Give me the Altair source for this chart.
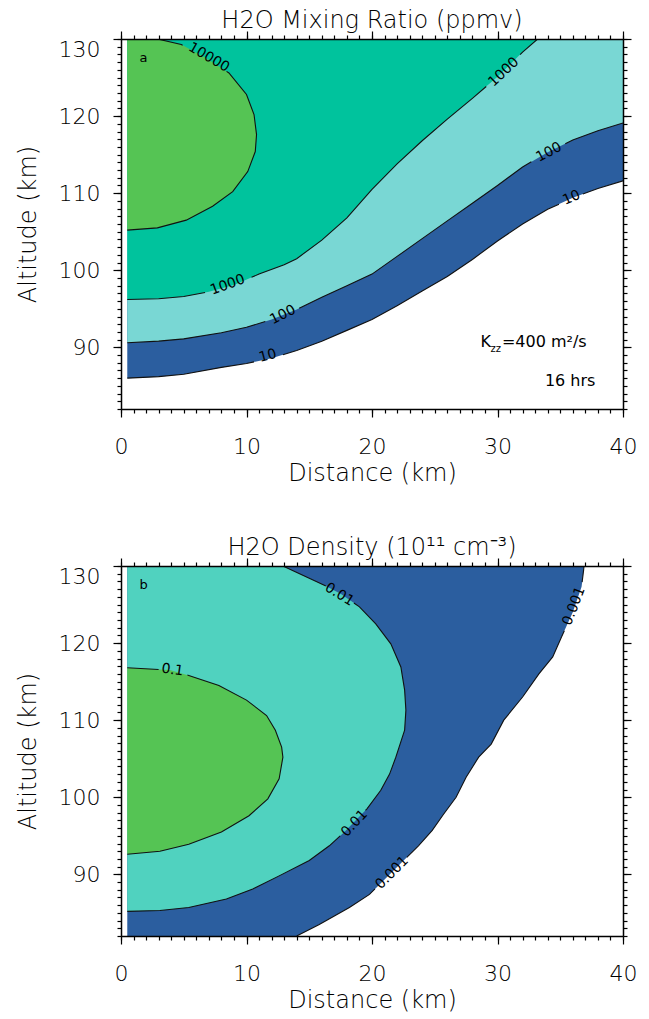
import altair as alt
import pandas as pd

FONT = "DejaVu Sans"
BIG_WEIGHT = 300      # axis text and titles (thin strokes like the original)
SMALL_WEIGHT = 400    # contour labels and notes
INK = "#000000"
LINE_INK = "#111111"

BLUE = "#2B5E9F"
CYAN_A = "#79D7D4"
TEAL = "#00C39D"
GREEN = "#55C454"
CYAN_B = "#50D2BF"

GRID_START = 0.5   # first model distance (km); the fill starts here
TOP_ALT = 130      # top of the model domain (km)

# ---------------- panel a : H2O mixing ratio (ppmv) ----------------
A_DIST = [0.5, 3, 5, 8, 10, 12, 14, 16, 18, 20, 22, 24, 26, 28, 30, 32, 34, 36, 38, 40]
A_C10 = [86.0, 86.2, 86.5, 87.4, 87.9, 88.6, 89.6, 90.8, 92.2, 93.6, 95.4, 97.3, 99.2,
         101.4, 103.8, 106.0, 107.9, 109.4, 110.6, 111.6]
A_C100 = [90.6, 90.8, 91.1, 91.9, 92.6, 93.6, 94.9, 96.5, 98.0, 99.5, 101.8, 104.1, 106.4,
          108.7, 111.0, 113.4, 115.3, 116.9, 118.1, 119.1]
A_C1000_DIST = [0.5, 3, 5, 7, 9, 11, 13, 14, 16, 18, 20, 22, 24, 26, 28, 30, 32, 33.2]
A_C1000 = [96.2, 96.3, 96.6, 97.2, 98.1, 99.5, 100.7, 101.5, 103.9, 106.8, 110.5, 113.8,
           116.8, 119.6, 122.3, 125.1, 128.3, 130.0]
A_C10000_ALT = [105.2, 105.5, 106.5, 108.3, 110.2, 112.8, 115.4, 117.6, 120.2, 122.8,
                125.6, 127.5, 129.3, 130.0]
A_C10000_DIST = [0.5, 2.9, 5.2, 7.3, 8.9, 10.1, 10.7, 10.8, 10.6, 10.0, 8.6, 6.8, 4.8, 2.9]

A_LABEL_TEXT = ["10000", "1000", "1000", "100", "100", "10", "10"]
A_LABEL_DIST = [7.0, 8.5, 30.5, 12.9, 34.1, 11.7, 35.9]
A_LABEL_ALT = [127.6, 98.1, 125.7, 94.2, 115.3, 88.9, 109.4]
A_LABEL_ANGLE = [30, 340, 317, 333, 332, 345, 337]
A_GAP_10 = [(10.6, 12.9), (34.9, 36.8)]
A_GAP_100 = [(11.5, 14.2), (32.7, 35.4)]
A_GAP_1000 = [(6.7, 10.4), (29.1, 31.8)]
A_GAP_10000 = [(125.8, 129.2)]          # along altitude

A_NOTE_TEXT = ["K", "zz", "=400 m²/s", "16 hrs"]
A_NOTE_DIST = [28.65, 29.45, 30.35, 37.8]
A_NOTE_ALT = [90.0, 90.0, 90.0, 85.0]

# ---------------- panel b : H2O density (1e11 cm-3) ----------------
B_C0001_ALT = [82.0, 83.5, 85.7, 87.4, 90.3, 93.7, 95.7, 97.8, 100.0, 102.6, 105.2, 106.9,
               110.0, 113.0, 116.0, 118.2, 120.8, 124.0, 127.3, 130.0]
B_C0001_DIST = [14.0, 15.8, 18.2, 19.8, 21.6, 23.7, 24.8, 25.7, 26.7, 27.5, 28.5, 29.5,
                30.5, 32.0, 33.3, 34.4, 35.1, 36.0, 36.7, 36.9]
B_C001_ALT = [85.2, 85.3, 85.7, 86.8, 88.1, 89.8, 91.8, 93.7, 95.5, 98.5, 100.9, 103.0,
              105.2, 108.7, 111.3, 113.9, 116.9, 119.9, 122.5, 124.7, 126.4, 127.5, 130.0]
B_C001_DIST = [0.5, 3.1, 5.4, 8.4, 10.5, 12.6, 15.0, 16.6, 17.8, 19.6, 20.7, 21.4, 21.9,
               22.6, 22.7, 22.6, 22.3, 21.5, 20.3, 19.0, 17.5, 16.2, 12.9]
B_C01_ALT = [92.6, 93.0, 93.9, 95.5, 97.6, 99.8, 102.4, 105.2, 106.5, 108.7, 110.6, 112.6,
             114.5, 115.8, 116.5, 116.8]
B_C01_DIST = [0.5, 3.1, 5.4, 8.0, 10.2, 11.7, 12.6, 12.9, 12.8, 12.3, 11.6, 10.0, 7.8,
              5.4, 3.9, 0.5]

B_LABEL_TEXT = ["0.1", "0.01", "0.01", "0.001", "0.001"]
B_LABEL_DIST = [4.1, 17.4, 18.6, 21.6, 36.1]
B_LABEL_ALT = [116.5, 126.3, 96.6, 90.2, 124.8]
B_LABEL_ANGLE = [8, 32, 313, 315, 291]
B_GAP_0001 = [(88.1, 92.2), (121.6, 127.9)]   # along altitude
B_GAP_001 = [(95.0, 98.3), (125.2, 127.4)]
B_GAP_01 = [(115.85, 116.58)]

PANEL_TAG_DIST = 1.8
PANEL_TAG_ALT = 127.5

X_MAJOR = [0, 10, 20, 30, 40]
X_MINOR = list(range(0, 41))
Y_MAJOR = [90, 100, 110, 120, 130]
Y_MINOR = list(range(82, 131))


# ---------------- helpers ----------------
def split_line(par, oth, gaps):
    """Cut a polyline (parameter, other coordinate) where the labels sit."""
    seq = []
    for i in range(len(par)):
        if i > 0:
            p0, o0, p1, o1 = par[i - 1], oth[i - 1], par[i], oth[i]
            bs = [b for g in gaps for b in g if min(p0, p1) < b < max(p0, p1)]
            bs.sort(reverse=p1 < p0)
            for b in bs:
                seq.append((b, o0 + (o1 - o0) * (b - p0) / (p1 - p0)))
        seq.append((par[i], oth[i]))

    def inside(p):
        return any(lo < p < hi for lo, hi in gaps)

    out, seg, prev = [], 0, None
    for k, (p, o) in enumerate(seq):
        if inside(p):
            continue
        if prev is not None and inside((prev + p) / 2):
            seg += 1
        out.append((k, seg, p, o))
        prev = p
    return out


def line_frame(specs):
    rows = []
    for name, par, oth, gaps, par_is_dist in specs:
        for k, seg, p, o in split_line(par, oth, gaps):
            rows.append({
                "key": f"{name}-{seg}", "k": k,
                "dist": p if par_is_dist else o,
                "alt": o if par_is_dist else p,
            })
    return pd.DataFrame(rows)


XS = alt.Scale(domain=[0, 40], nice=False, zero=False)
YS = alt.Scale(domain=[82, 130], nice=False, zero=False)

AX_BASE = dict(grid=False, zindex=1)
AXES = [
    (alt.Axis(orient="bottom", values=X_MAJOR, tickSize=8, labelPadding=19, labelFontSize=22,
              labelFlush=False, title="Distance (km)", titleFontSize=24, titlePadding=4, **AX_BASE),
     alt.Axis(orient="left", values=Y_MAJOR, tickSize=8, labelPadding=13, labelFontSize=22,
              labelFlush=True, title="Altitude (km)", titleFontSize=24, titlePadding=18, **AX_BASE)),
    (alt.Axis(orient="bottom", values=X_MINOR, tickSize=4, labels=False, domain=False, title=None, **AX_BASE),
     alt.Axis(orient="left", values=Y_MINOR, tickSize=4, labels=False, domain=False, title=None, **AX_BASE)),
    (alt.Axis(orient="top", values=X_MAJOR, tickSize=8, labels=False, title=None, **AX_BASE),
     alt.Axis(orient="right", values=Y_MAJOR, tickSize=8, labels=False, title=None, **AX_BASE)),
    (alt.Axis(orient="top", values=X_MINOR, tickSize=4, labels=False, domain=False, title=None, **AX_BASE),
     alt.Axis(orient="right", values=Y_MINOR, tickSize=4, labels=False, domain=False, title=None, **AX_BASE)),
]


def with_axes(layers):
    out = []
    for i, (mark, enc) in enumerate(layers):
        enc = dict(enc)
        if i < len(AXES):
            xa, ya = AXES[i]
            enc["x"] = alt.X("dist:Q", scale=XS, axis=xa)
            enc["y"] = alt.Y("alt:Q", scale=YS, axis=ya)
        else:
            enc["x"] = alt.X("dist:Q", scale=XS, axis=None)
            enc["y"] = alt.Y("alt:Q", scale=YS, axis=None)
        out.append(mark.encode(**enc))
    return out


def vband(dist, alt_vals, color):
    df = pd.DataFrame({"dist": dist, "alt": alt_vals})
    return (alt.Chart(df).mark_area(color=color, clip=True, opacity=1),
            {"y2": alt.datum(TOP_ALT)})


def hband(alt_vals, dist, color):
    df = pd.DataFrame({"dist": dist, "alt": alt_vals})
    return (alt.Chart(df).mark_area(color=color, orient="horizontal", clip=True, opacity=1),
            {"x2": alt.datum(GRID_START)})


def lines_layer(df):
    return (alt.Chart(df).mark_line(color=LINE_INK, strokeWidth=1.1, clip=True),
            {"detail": "key:N", "order": "k:Q"})


def labels_layer(texts, dists, alts, angles):
    df = pd.DataFrame({"t": texts, "dist": dists, "alt": alts, "a": angles})
    return (alt.Chart(df).mark_text(font=FONT, fontSize=14, fontWeight=SMALL_WEIGHT, color=INK,
                                    baseline="middle", align="center"),
            {"text": "t:N", "angle": alt.Angle("a:Q", scale=None)})


def tag_layer(letter):
    df = pd.DataFrame({"t": [letter], "dist": [PANEL_TAG_DIST], "alt": [PANEL_TAG_ALT]})
    return (alt.Chart(df).mark_text(font=FONT, fontSize=13, fontWeight=SMALL_WEIGHT, color=INK,
                                    align="center", baseline="middle"),
            {"text": "t:N"})


def note_layer(i, size, align, dy=0):
    df = pd.DataFrame({"t": [A_NOTE_TEXT[i]], "dist": [A_NOTE_DIST[i]], "alt": [A_NOTE_ALT[i]]})
    return (alt.Chart(df).mark_text(font=FONT, fontSize=size, fontWeight=SMALL_WEIGHT, color=INK,
                                    align=align, baseline="alphabetic", dy=dy),
            {"text": "t:N"})


W, H = 502, 370

# ----- panel a -----
a_lines = line_frame([
    ("c10", A_DIST, A_C10, A_GAP_10, True),
    ("c100", A_DIST, A_C100, A_GAP_100, True),
    ("c1000", A_C1000_DIST, A_C1000, A_GAP_1000, True),
    ("c10000", A_C10000_ALT, A_C10000_DIST, A_GAP_10000, False),
])
panel_a = alt.layer(*with_axes([
    vband(A_DIST, A_C10, BLUE),
    vband(A_DIST, A_C100, CYAN_A),
    vband(A_C1000_DIST, A_C1000, TEAL),
    hband(A_C10000_ALT, A_C10000_DIST, GREEN),
    lines_layer(a_lines),
    labels_layer(A_LABEL_TEXT, A_LABEL_DIST, A_LABEL_ALT, A_LABEL_ANGLE),
    tag_layer("a"),
    note_layer(0, 16, "left"),
    note_layer(1, 10, "left", 5),
    note_layer(2, 16, "left"),
    note_layer(3, 16, "right"),
])).resolve_axis(x="independent", y="independent").properties(
    width=W, height=H,
    title=alt.TitleParams("H2O Mixing Ratio (ppmv)", font=FONT, fontSize=24, fontWeight=BIG_WEIGHT,
                          color=INK, anchor="middle", frame="group", offset=-3),
)

# ----- panel b -----
b_lines = line_frame([
    ("c0001", B_C0001_ALT, B_C0001_DIST, B_GAP_0001, False),
    ("c001", B_C001_ALT, B_C001_DIST, B_GAP_001, False),
    ("c01", B_C01_ALT, B_C01_DIST, B_GAP_01, False),
])
panel_b = alt.layer(*with_axes([
    hband(B_C0001_ALT, B_C0001_DIST, BLUE),
    hband(B_C001_ALT, B_C001_DIST, CYAN_B),
    hband(B_C01_ALT, B_C01_DIST, GREEN),
    lines_layer(b_lines),
    labels_layer(B_LABEL_TEXT, B_LABEL_DIST, B_LABEL_ALT, B_LABEL_ANGLE),
    tag_layer("b"),
])).resolve_axis(x="independent", y="independent").properties(
    width=W, height=H,
    title=alt.TitleParams("H2O Density (10¹¹ cm⁻³)", font=FONT, fontSize=24, fontWeight=BIG_WEIGHT,
                          color=INK, anchor="middle", frame="group", offset=-3),
)

chart = alt.vconcat(panel_a, panel_b, spacing=51).properties(
    padding={"left": 16, "top": 9, "right": 5, "bottom": 0},
    background="white",
).configure_view(stroke=None).configure_axis(
    labelFont=FONT, titleFont=FONT, labelColor=INK, titleColor=INK,
    labelFontWeight=BIG_WEIGHT, titleFontWeight=BIG_WEIGHT,
    domainColor=INK, tickColor=INK, domainWidth=1.5, tickWidth=1.2,
)

chart.save("out.html", embed_options={"renderer": "svg", "actions": False})
